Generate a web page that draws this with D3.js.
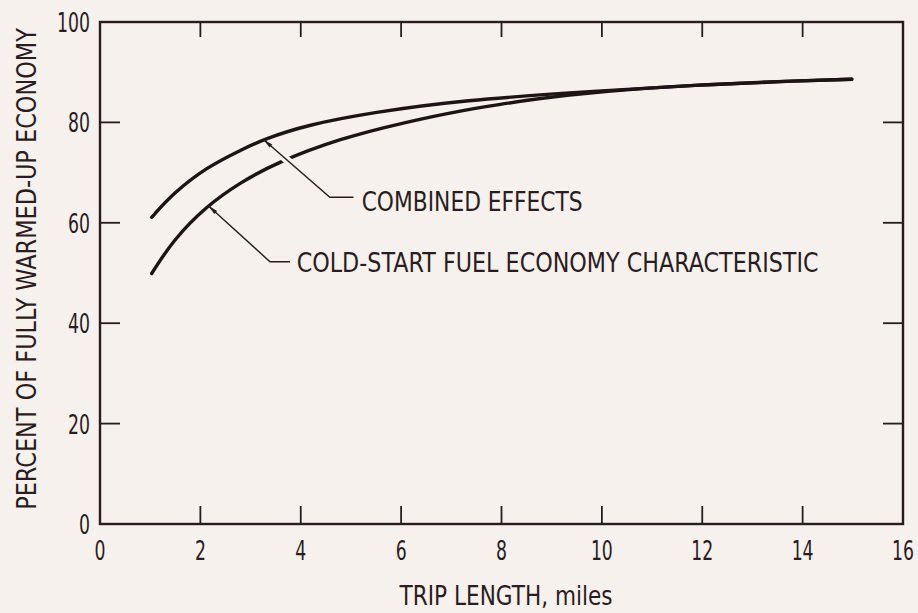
<!DOCTYPE html>
<html>
<head>
<meta charset="utf-8">
<script src="https://cdn.jsdelivr.net/npm/d3@7"></script>
<style>
  html, body { margin: 0; padding: 0; background: #f6f1ed; }
  svg { display: block; }
  text { font-family: "DejaVu Sans", "Liberation Sans", sans-serif; fill: #2b1c20; }
</style>
</head>
<body>
<svg id="chart" width="918" height="613"></svg>
<script>
// ---- data ----
const xTicks = [0, 2, 4, 6, 8, 10, 12, 14, 16];
const yTicks = [0, 20, 40, 60, 80, 100];
const combinedX = [1.03, 1.46, 2.13, 2.79, 3.25, 4.12, 5.45, 7.17, 9.96, 11.95, 13.95, 14.98];
const combinedY = [61.1, 65.9, 71.1, 74.4, 76.6, 79.5, 82.0, 84.4, 86.3, 87.5, 88.3, 88.6];
const coldX = [1.03, 1.46, 2.13, 2.79, 3.52, 4.78, 6.11, 7.17, 7.97, 8.63, 9.96, 11.95, 13.95, 14.98];
const coldY = [49.9, 56.6, 63.4, 68.0, 72.0, 76.8, 80.1, 82.3, 83.6, 84.6, 86.2, 87.5, 88.3, 88.6];
const xLabel = "TRIP LENGTH, miles";
const yLabel = "PERCENT OF FULLY WARMED-UP ECONOMY";
const combinedLabel = "COMBINED EFFECTS";
const coldLabel = "COLD-START FUEL ECONOMY CHARACTERISTIC";
// annotation leader points in data units: tip on curve, elbow, end of horizontal
const combinedLeader = [[3.256, 76.6], [4.58, 65.1], [5.05, 65.1]];
const coldLeader = [[2.158, 63.4], [3.387, 52.25], [3.786, 52.25]];
const combinedTextAt = [5.214, 62.4];
const coldTextAt = [3.919, 50.26];

// ---- chart ----
const ink = "#2a1b1f";
const bg = "#f6f1ed";
const svg = d3.select("#chart");
const x = d3.scaleLinear().domain([0, 16]).range([100, 903]);
const y = d3.scaleLinear().domain([0, 100]).range([524, 22]);
const SX = 0.64; // horizontal squeeze to mimic condensed lettering

// squeeze a text horizontally so that it spans the given width
function fit(sel, px, py, w, rot) {
  const n = sel.node().getComputedTextLength();
  const s = w / n;
  sel.attr("transform", `translate(${px},${py})${rot ? " rotate(" + rot + ")" : ""} scale(${s},1)`);
}

const defs = svg.append("defs");
defs.append("marker")
  .attr("id", "arrow")
  .attr("viewBox", "0 0 12 6")
  .attr("refX", 0).attr("refY", 3)
  .attr("markerWidth", 12).attr("markerHeight", 5)
  .attr("markerUnits", "userSpaceOnUse")
  .attr("orient", "auto")
  .append("path").attr("d", "M0,3 L12,0.5 L12,5.5 Z").attr("fill", ink);

// frame
svg.append("rect")
  .attr("x", x(0)).attr("y", y(100))
  .attr("width", x(16) - x(0)).attr("height", y(0) - y(100))
  .attr("fill", "none").attr("stroke", ink).attr("stroke-width", 2.4);

// inner ticks
const tickG = svg.append("g").attr("stroke", ink).attr("stroke-width", 1.8);
xTicks.slice(1, -1).forEach(v => {
  tickG.append("line").attr("x1", x(v)).attr("x2", x(v)).attr("y1", y(0)).attr("y2", y(0) - 18);
  tickG.append("line").attr("x1", x(v)).attr("x2", x(v)).attr("y1", y(100)).attr("y2", y(100) + 15);
});
yTicks.slice(1, -1).forEach(v => {
  tickG.append("line").attr("y1", y(v)).attr("y2", y(v)).attr("x1", x(0)).attr("x2", x(0) + 20);
  tickG.append("line").attr("y1", y(v)).attr("y2", y(v)).attr("x1", x(16)).attr("x2", x(16) - 20);
});

// tick labels (squeezed horizontally)
svg.append("g").selectAll("text").data(xTicks).join("text")
  .attr("transform", d => `translate(${x(d)},560) scale(${SX},1)`)
  .attr("text-anchor", "middle")
  .attr("font-size", 27)
  .text(d => d);
svg.append("g").selectAll("text").data(yTicks).join("text")
  .attr("transform", d => `translate(90,${y(d) + 10}) scale(${SX},1)`)
  .attr("text-anchor", "end")
  .attr("font-size", 27)
  .text(d => d);

// axis titles
fit(svg.append("text").attr("text-anchor", "middle").attr("font-size", 27).text(xLabel), 506, 605, 213);
fit(svg.append("text").attr("text-anchor", "middle").attr("font-size", 27).text(yLabel), 36, 269, 482, -90);

// curves
const line = d3.line().x(d => x(d[0])).y(d => y(d[1])).curve(d3.curveBasis);
const combined = combinedX.map((v, i) => [v, combinedY[i]]);
const cold = coldX.map((v, i) => [v, coldY[i]]);
[combined, cold].forEach(s => {
  svg.append("path").datum(s).attr("d", line)
    .attr("fill", "none").attr("stroke", "#1e1416")
    .attr("stroke-width", 3.4).attr("stroke-linecap", "round");
});

// annotations
const lead = d3.line().x(d => x(d[0])).y(d => y(d[1]));
// small gap in the lower curve where the upper leader crosses it
const lerp = (a, b, t) => [a[0] + (b[0] - a[0]) * t, a[1] + (b[1] - a[1]) * t];
svg.append("path")
  .datum([lerp(combinedLeader[0], combinedLeader[1], 0.2), lerp(combinedLeader[0], combinedLeader[1], 0.45)])
  .attr("d", lead).attr("stroke", bg).attr("stroke-width", 8).attr("fill", "none");
[combinedLeader, coldLeader].forEach(pts => {
  svg.append("path").datum(pts).attr("d", lead)
    .attr("fill", "none").attr("stroke", ink).attr("stroke-width", 1.4)
    .attr("marker-start", "url(#arrow)");
});
fit(svg.append("text").attr("font-size", 27).text(combinedLabel), x(combinedTextAt[0]), y(combinedTextAt[1]), 221);
fit(svg.append("text").attr("font-size", 27).text(coldLabel), x(coldTextAt[0]), y(coldTextAt[1]), 522);
</script>
</body>
</html>
